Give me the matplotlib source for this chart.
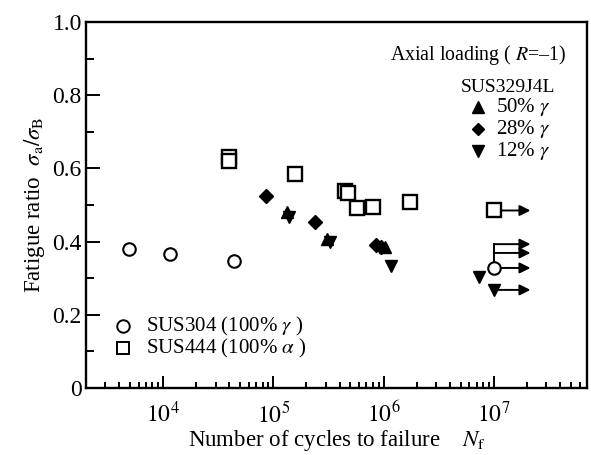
import numpy as np
import matplotlib
matplotlib.use("Agg")
import matplotlib.pyplot as plt
from matplotlib.ticker import LogLocator, FixedLocator, FuncFormatter, NullFormatter

plt.rcParams['font.family'] = 'serif'
plt.rcParams['font.serif'] = ['Liberation Serif', 'DejaVu Serif']
plt.rcParams['mathtext.fontset'] = 'stix'

# SUS304 (100% gamma)
sus304_n = [4900, 11600, 44000]
sus304_r = [0.38, 0.366, 0.347]
sus304_runout_n = [1.0e7]
sus304_runout_r = [0.328]

# SUS444 (100% alpha)
sus444_n = [40000, 40000, 1.58e5, 4.5e5, 4.8e5, 5.7e5, 8.1e5, 1.72e6]
sus444_r = [0.632, 0.620, 0.585, 0.537, 0.533, 0.492, 0.494, 0.508]
sus444_runout_n = [1.0e7]
sus444_runout_r = [0.485]

# SUS329J4L 50% gamma (triangle up)
g50_n = [1.32e5, 3.1e5, 1.02e6]
g50_r = [0.480, 0.408, 0.384]
# SUS329J4L 28% gamma (diamond)
g28_n = [8.6e4, 2.4e5, 8.6e5, 9.4e5]
g28_r = [0.525, 0.454, 0.390, 0.386]
# SUS329J4L 12% gamma (triangle down)
g12_n = [1.40e5, 3.3e5, 1.18e6, 7.3e6]
g12_r = [0.466, 0.398, 0.333, 0.303]
g12_runout_n = [1.0e7]
g12_runout_r = [0.268]

# additional run-out arrows at 1e7
extra_runout_r = [0.393, 0.369]

xticks_major = [1e4, 1e5, 1e6, 1e7]
yticks_major = [0, 0.2, 0.4, 0.6, 0.8, 1.0]
yticks_minor = [0.1, 0.3, 0.5, 0.7, 0.9]

fig = plt.figure(figsize=(5.91, 4.55), dpi=100)
ax = fig.add_axes([0.1455, 0.1473, 0.8477, 0.8043])
ax.set_xscale('log')
ax.set_xlim(2e3, 7e7)
ax.set_ylim(0, 1.0)

arrow_end = 2.15e7
def runout(y, x0=1e7):
    ax.annotate('', xy=(arrow_end, y), xytext=(x0, y),
                arrowprops=dict(arrowstyle='-|>', lw=1.4, color='k',
                                mutation_scale=16, shrinkA=0, shrinkB=0),
                zorder=2)

for y in sus444_runout_r + extra_runout_r + sus304_runout_r + g12_runout_r:
    runout(y)
ax.plot([1e7, 1e7], [sus304_runout_r[0], extra_runout_r[0]], color='k', lw=1.4, zorder=2)

ax.plot(sus304_n + sus304_runout_n, sus304_r + sus304_runout_r, 'o', ms=9, mfc='white', mec='k', mew=1.5, ls='none', zorder=4)
ax.plot(sus444_n + sus444_runout_n, sus444_r + sus444_runout_r, 's', ms=9.5, mfc='white', mec='k', mew=1.7, ls='none', zorder=4)
ax.plot(g50_n, g50_r, '^', ms=9, color='k', ls='none', zorder=4)
ax.plot(g28_n, g28_r, 'D', ms=7, color='k', ls='none', zorder=4)
ax.plot(g12_n + g12_runout_n, g12_r + g12_runout_r, 'v', ms=9, color='k', ls='none', zorder=4)

# ticks
ax.xaxis.set_major_locator(FixedLocator(xticks_major))
ax.xaxis.set_minor_locator(LogLocator(base=10, subs=np.arange(2, 10), numticks=20))
ax.xaxis.set_minor_formatter(NullFormatter())
ax.xaxis.set_major_formatter(FuncFormatter(lambda v, p: r'$10^{%d}$' % int(round(np.log10(v)))))
ax.yaxis.set_major_locator(FixedLocator(yticks_major))
ax.yaxis.set_minor_locator(FixedLocator(yticks_minor))
ax.yaxis.set_major_formatter(FuncFormatter(lambda v, p: '0' if v == 0 else '%.1f' % v))

ax.tick_params(axis='x', which='major', direction='in', length=9, width=1.4, labelsize=17, pad=10)
ax.tick_params(axis='x', which='minor', direction='in', length=4.5, width=1.4)
ax.tick_params(axis='y', which='major', direction='in', length=10, width=1.4, labelsize=17, pad=3)
ax.tick_params(axis='y', which='minor', direction='in', length=6, width=1.4)
ax.tick_params(top=False, right=False, which='both')
for s in ax.spines.values():
    s.set_linewidth(1.7)

ax.set_xlabel(r'Number of cycles to failure    $N_{\rm f}$', fontsize=16.5, labelpad=0)
ax.set_ylabel(r'Fatigue ratio  $\sigma_{\rm a}/\sigma_{\rm B}$', fontsize=16.5, labelpad=4)

# upper-right legend (text)
ax.text(0.958, 0.910, r'Axial loading ( $R$=–1)', transform=ax.transAxes, ha='right', va='center', fontsize=14.3)
ax.text(0.936, 0.822, 'SUS329J4L', transform=ax.transAxes, ha='right', va='center', fontsize=14)
leg_items = [('^', '50% ', 0.768), ('D', '28% ', 0.708), ('v', '12% ', 0.648)]
for mk, lab, yy in leg_items:
    ax.plot([0.783], [yy], marker=mk, ms=8 if mk != 'D' else 6.5, color='k', transform=ax.transAxes, ls='none', clip_on=False)
    ax.text(0.818, yy, lab + r'$\gamma$', transform=ax.transAxes, ha='left', va='center', fontsize=15)

# lower-left legend
ax.plot([0.074], [0.169], 'o', ms=9, mfc='white', mec='k', mew=1.4, transform=ax.transAxes)
ax.text(0.12, 0.169, r'SUS304 (100% $\gamma$ )', transform=ax.transAxes, ha='left', va='center', fontsize=15)
ax.plot([0.074], [0.109], 's', ms=9, mfc='white', mec='k', mew=1.4, transform=ax.transAxes)
ax.text(0.12, 0.109, r'SUS444 (100% $\alpha$ )', transform=ax.transAxes, ha='left', va='center', fontsize=15)

fig.savefig('out.png', dpi=100)
